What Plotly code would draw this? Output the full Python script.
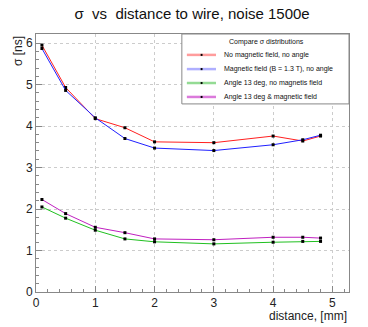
import plotly.graph_objects as go

distance = [0.1, 0.5, 1.0, 1.5, 2.0, 3.0, 4.0, 4.5, 4.8]
sigma_no_field = [5.95, 4.93, 4.18, 3.96, 3.62, 3.60, 3.76, 3.64, 3.76]
sigma_field = [5.87, 4.86, 4.20, 3.70, 3.47, 3.41, 3.55, 3.67, 3.78]
sigma_angle = [2.05, 1.78, 1.49, 1.28, 1.21, 1.16, 1.20, 1.22, 1.22]
sigma_angle_field = [2.23, 1.89, 1.56, 1.43, 1.28, 1.26, 1.32, 1.32, 1.30]

names = ["No magnetic field, no angle",
         "Magnetic field (B = 1.3 T), no angle",
         "Angle 13 deg, no magnetis field",
         "Angle 13 deg & magnetic field"]
colors = ["#ff2020", "#2020ff", "#20c020", "#c020c0"]
pale = ["rgba(255,90,90,0.6)", "rgba(110,110,255,0.55)", "rgba(60,190,60,0.55)", "rgba(200,50,200,0.65)"]
series = [sigma_no_field, sigma_field, sigma_angle, sigma_angle_field]

FONT = "Liberation Sans, Arial, sans-serif"

fig = go.Figure()
for name, c, s in zip(names, colors, series):
    fig.add_trace(go.Scatter(x=distance, y=s, mode="lines+markers", name=name, showlegend=False,
                             line=dict(color=c, width=1),
                             marker=dict(symbol="square", size=3, color="black")))

axis_common = dict(showline=True, linecolor="#888", linewidth=1, mirror=True,
                   showgrid=True, gridcolor="#ccc", griddash="dot", gridwidth=1,
                   zeroline=False, ticks="inside", ticklen=6, tickcolor="#888",
                   tickfont=dict(family=FONT, size=12, color="#222"),
                   minor=dict(ticks="inside", ticklen=3, tickcolor="#888", dtick=0.2, showgrid=False))

# manual legend box (paper coordinates of the plot area)
shapes = [dict(type="rect", xref="paper", yref="paper", x0=0.466, x1=1.0, y0=0.729, y1=1.0,
               line=dict(color="#888", width=1), fillcolor="white", layer="above")]
annotations = [dict(text="Compare σ distributions", xref="paper", yref="paper", x=0.735, y=0.969,
                    xanchor="center", yanchor="middle", showarrow=False,
                    font=dict(family=FONT, size=7, color="#111"))]
entry_y = [0.919, 0.864, 0.810, 0.756]
for name, p, ey in zip(names, pale, entry_y):
    shapes.append(dict(type="line", xref="paper", yref="paper", x0=0.482, x1=0.575, y0=ey, y1=ey,
                       line=dict(color=p, width=2.5), layer="above"))
    shapes.append(dict(type="rect", xref="paper", yref="paper", x0=0.526, x1=0.532,
                       y0=ey - 0.004, y1=ey + 0.004, line=dict(width=0), fillcolor="black",
                       layer="above"))
    annotations.append(dict(text=name, xref="paper", yref="paper", x=0.595, y=ey,
                            xanchor="left", yanchor="middle", showarrow=False,
                            font=dict(family=FONT, size=7, color="#111")))

annotations.append(dict(text="σ [ns]", xref="paper", yref="paper", x=0, y=1, xshift=-18,
                        xanchor="center", yanchor="top", textangle=-90, showarrow=False,
                        font=dict(family=FONT, size=12, color="#222")))
annotations.append(dict(text="distance, [mm]", xref="paper", yref="paper", x=1, y=0, yshift=-15,
                        xanchor="right", yanchor="top", showarrow=False,
                        font=dict(family=FONT, size=12, color="#222")))

fig.update_layout(
    width=368, height=327,
    margin=dict(l=36, r=19, t=34, b=35),
    paper_bgcolor="white", plot_bgcolor="white",
    title=dict(text="σ  vs  distance to wire, noise 1500e", x=0.522, xanchor="center",
               xref="container", yref="container", y=0.958, yanchor="middle",
               font=dict(family=FONT, size=15, color="#111")),
    xaxis=dict(range=[0, 5.28], dtick=1, tick0=0, **axis_common),
    yaxis=dict(range=[0, 6.22], dtick=1, tick0=0, **axis_common),
    shapes=shapes,
    annotations=annotations,
    showlegend=False,
)
fig.write_html("out.html", config={"displayModeBar": False},
               post_script="document.body.style.margin='0';")
